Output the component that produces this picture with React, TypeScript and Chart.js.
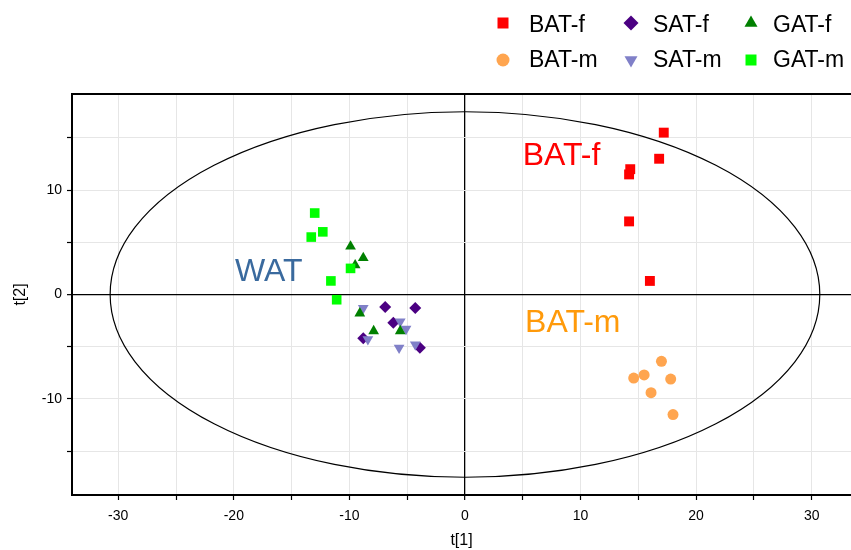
import React, { useEffect, useRef } from "react";
import { Chart, registerables } from "chart.js";

Chart.register(...registerables);

// ---- data ----
const seriesNames = ["BAT-f", "SAT-f", "GAT-f", "BAT-m", "SAT-m", "GAT-m"];

const batF_x = [17.2, 16.8, 14.3, 14.2, 14.2, 16.0];
const batF_y = [15.5, 13.0, 12.0, 11.5, 7.0, 1.3];

const satF_x = [-6.9, -4.3, -6.2, -8.8, -3.9];
const satF_y = [-1.2, -1.3, -2.7, -4.2, -5.1];

const gatF_x = [-9.9, -8.8, -9.5, -9.1, -7.9, -5.6];
const gatF_y = [4.6, 3.5, 2.8, -1.8, -3.5, -3.5];

const batM_x = [17.0, 15.5, 14.6, 17.8, 16.1, 18.0];
const batM_y = [-6.4, -7.7, -8.0, -8.1, -9.4, -11.5];

const satM_x = [-8.8, -5.6, -5.1, -8.4, -5.7, -4.3];
const satM_y = [-1.3, -2.6, -3.3, -4.3, -5.1, -4.8];

const gatM_x = [-13.0, -12.3, -13.3, -9.9, -11.6, -11.1];
const gatM_y = [7.8, 6.0, 5.5, 2.5, 1.3, -0.5];

// Hotelling ellipse semi-axes (data units)
const ellipseA = 30.7;
const ellipseB = 17.5;

// group annotations
const noteTexts = ["BAT-f", "WAT", "BAT-m"];
const noteX = [5.0, -19.9, 5.2];
const noteY = [12.4, 1.25, -3.6];
const noteColors = ["#ff0000", "#3a6a9e", "#ff9a0a"];

const xMin = -34;
const xMax = 33.4;
const yMin = -19.2;
const yMax = 19.2;

const colors = ["#ff0000", "#4b0082", "#008000", "#ffa54f", "#8080c8", "#00ff00"];
const styles = ["rect", "rectRot", "triangle", "circle", "triangleDown", "rect"];

const FONT = '"Liberation Sans", Arial, Helvetica, sans-serif';

function toPts(xs: number[], ys: number[]) {
  return xs.map((x, i) => ({ x, y: ys[i] }));
}

function drawMarker(ctx: CanvasRenderingContext2D, style: string, x: number, y: number, r: number, color: string) {
  ctx.save();
  ctx.fillStyle = color;
  ctx.beginPath();
  if (style === "rect") {
    ctx.rect(x - r, y - r, 2 * r, 2 * r);
  } else if (style === "rectRot") {
    ctx.moveTo(x, y - r);
    ctx.lineTo(x + r, y);
    ctx.lineTo(x, y + r);
    ctx.lineTo(x - r, y);
    ctx.closePath();
  } else if (style === "triangle") {
    ctx.moveTo(x, y - r);
    ctx.lineTo(x + r * 0.866, y + r * 0.5);
    ctx.lineTo(x - r * 0.866, y + r * 0.5);
    ctx.closePath();
  } else if (style === "triangleDown") {
    ctx.moveTo(x, y + r);
    ctx.lineTo(x + r * 0.866, y - r * 0.5);
    ctx.lineTo(x - r * 0.866, y - r * 0.5);
    ctx.closePath();
  } else {
    ctx.arc(x, y, r, 0, Math.PI * 2);
  }
  ctx.fill();
  ctx.restore();
}

const customPlugin = {
  id: "custom",
  beforeDatasetsDraw(chart: any) {
    const { ctx, chartArea, scales } = chart;
    const xs = scales.x;
    const ys = scales.y;
    const cx = xs.getPixelForValue(0);
    const cy = ys.getPixelForValue(0);
    const rx = Math.abs(xs.getPixelForValue(ellipseA) - cx);
    const ry = Math.abs(ys.getPixelForValue(ellipseB) - cy);
    ctx.save();
    ctx.strokeStyle = "#000";
    ctx.lineWidth = 1.2;
    ctx.beginPath();
    ctx.ellipse(cx, cy, rx, ry, 0, 0, Math.PI * 2);
    ctx.stroke();
    // frame top
    ctx.lineWidth = 2;
    ctx.beginPath();
    ctx.moveTo(chartArea.left - 1, chartArea.top);
    ctx.lineTo(chartArea.right, chartArea.top);
    ctx.stroke();
    ctx.restore();
  },
  afterDatasetsDraw(chart: any) {
    const { ctx, scales } = chart;
    ctx.save();
    ctx.font = `32px ${FONT}`;
    ctx.textAlign = "left";
    ctx.textBaseline = "alphabetic";
    noteTexts.forEach((t, i) => {
      ctx.fillStyle = noteColors[i];
      ctx.fillText(t, scales.x.getPixelForValue(noteX[i]), scales.y.getPixelForValue(noteY[i]));
    });
    ctx.restore();
  },
  afterDraw(chart: any) {
    const { ctx } = chart;
    const colMarker = [503, 631, 751];
    const colText = [529, 653, 773];
    const rowMarker = [23, 60];
    const rowBase = [32, 67];
    const legendR = [5.5, 7.5, 7.5, 6.5, 7.5, 5.5];
    ctx.save();
    ctx.font = `23px ${FONT}`;
    ctx.textAlign = "left";
    ctx.textBaseline = "alphabetic";
    ctx.fillStyle = "#000";
    seriesNames.forEach((name, i) => {
      const row = Math.floor(i / 3);
      const col = i % 3;
      drawMarker(ctx, styles[i], colMarker[col], rowMarker[row], legendR[i], colors[i]);
      ctx.fillStyle = "#000";
      ctx.fillText(name, colText[col], rowBase[row]);
    });
    ctx.restore();
  },
};

export default function App() {
  const ref = useRef<HTMLCanvasElement | null>(null);

  useEffect(() => {
    document.body.style.margin = "0";
    if (!ref.current) return;
    Chart.defaults.font.family = FONT;
    const xsArr = [batF_x, satF_x, gatF_x, batM_x, satM_x, gatM_x];
    const ysArr = [batF_y, satF_y, gatF_y, batM_y, satM_y, gatM_y];
    const radii = [7, 6, 6.2, 5.5, 6.2, 6.8];
    const orders = [4, 3, 1, 5, 2, 0];
    const datasets = seriesNames.map((name, i) => ({
      label: name,
      data: toPts(xsArr[i], ysArr[i]),
      pointStyle: styles[i] === "triangleDown" ? "triangle" : styles[i],
      rotation: styles[i] === "triangleDown" ? 180 : 0,
      pointRadius: radii[i],
      backgroundColor: colors[i],
      borderColor: colors[i],
      borderWidth: 0,
      order: orders[i],
      showLine: false,
    }));

    const onStep = (c: any) => c.tick && Math.abs(c.tick.value % 5) < 1e-9;
    const gridColor = (c: any) =>
      !onStep(c) ? "rgba(0,0,0,0)" : c.tick.value === 0 ? "#000" : "#e6e6e6";
    const tickColor = (c: any) => (!onStep(c) ? "rgba(0,0,0,0)" : "#000");
    const gridWidth = (c: any) => (c.tick && c.tick.value === 0 ? 1.3 : 1);

    const chart = new Chart(ref.current, {
      type: "scatter",
      data: { datasets: datasets as any },
      plugins: [customPlugin],
      options: {
        animation: false,
        responsive: false,
        maintainAspectRatio: false,
        layout: { autoPadding: false, padding: { top: 94, left: 0, right: 0, bottom: 0 } },
        plugins: { legend: { display: false }, tooltip: { enabled: false } },
        scales: {
          x: {
            type: "linear",
            min: xMin,
            max: xMax,
            afterFit: (s: any) => {
              s.height = 55;
              s.paddingRight = 0;
              s.paddingLeft = 0;
            },
            ticks: {
              stepSize: 5,
              includeBounds: false,
              autoSkip: false,
              maxRotation: 0,
              padding: 8,
              color: "#000",
              font: { size: 14 },
              callback: (v: any) => (Number(v) % 10 === 0 ? String(v) : ""),
            },
            grid: { color: gridColor, lineWidth: gridWidth, tickColor: tickColor, tickLength: 5, tickWidth: 1.2 },
            border: { display: true, color: "#000", width: 2 },
            title: { display: true, text: "t[1]", color: "#000", font: { size: 16 }, padding: { top: 0, bottom: 0 } },
          },
          y: {
            type: "linear",
            min: yMin,
            max: yMax,
            afterFit: (s: any) => {
              s.width = 72;
              s.paddingTop = 0;
              s.paddingBottom = 0;
            },
            ticks: {
              stepSize: 5,
              includeBounds: false,
              autoSkip: false,
              padding: 5,
              color: "#000",
              font: { size: 14 },
              callback: (v: any) => (Number(v) % 10 === 0 ? String(v) : ""),
            },
            grid: { color: gridColor, lineWidth: gridWidth, tickColor: tickColor, tickLength: 5, tickWidth: 1.2 },
            border: { display: true, color: "#000", width: 2 },
            title: { display: true, text: "t[2]", color: "#000", font: { size: 16 }, padding: { top: 11, bottom: 0 } },
          },
        },
      },
    });
    return () => chart.destroy();
  }, []);

  return (
    <div style={{ width: 851, height: 550, position: "relative" }}>
      <canvas ref={ref} width={851} height={550} style={{ display: "block", width: 851, height: 550 }} />
    </div>
  );
}
